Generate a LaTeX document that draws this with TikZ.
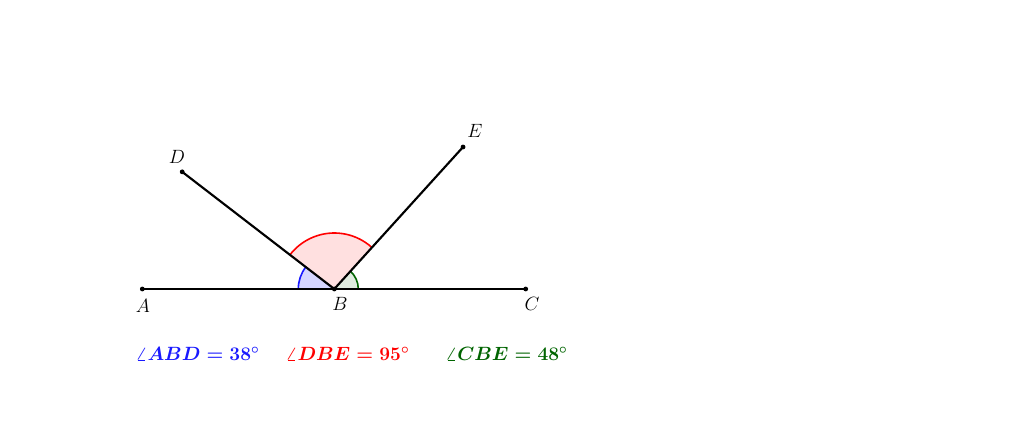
\documentclass[tikz,border=0pt]{standalone}
\usetikzlibrary{calc}
\definecolor{gblue}{RGB}{25,25,255}
\definecolor{gred}{RGB}{255,0,0}
\definecolor{ggreen}{RGB}{0,100,0}
\tikzset{
  seg/.style={line width=1.6pt, black},
  pt/.style={circle, fill=black, inner sep=0pt, minimum size=3.6pt},
  lbl/.style={font=\fontsize{13.5}{16}\selectfont, inner sep=0pt},
  res/.style={font=\fontsize{14.9}{17}\selectfont\boldmath, inner sep=0pt},
  arcline/.style={line width=1.2pt}
}
\begin{document}
\begin{tikzpicture}[x=0.75pt,y=0.75pt]
\useasboundingbox (0,0) rectangle (1024,434);
\coordinate (B) at (334.3,145);
\coordinate (A) at (142.3,145);
\coordinate (C) at (525.7,145);
\coordinate (D) at ($(B)+(142.4:192)$);
\coordinate (E) at ($(B)+(47.8:191.7)$);
% angle sectors
\fill[gred!12] (B) -- ++(47.8:56) arc[start angle=47.8,end angle=142.4,radius=56] -- cycle;
\draw[gred,arcline] ($(B)+(47.8:56)$) arc[start angle=47.8,end angle=142.4,radius=56];
\fill[gblue!18] (B) -- ++(142.4:36) arc[start angle=142.4,end angle=180,radius=36] -- cycle;
\draw[gblue,arcline] ($(B)+(142.4:36)$) arc[start angle=142.4,end angle=180,radius=36];
\fill[ggreen!12] (B) -- ++(0:24) arc[start angle=0,end angle=47.8,radius=24] -- cycle;
\draw[ggreen,arcline] ($(B)+(0:24)$) arc[start angle=0,end angle=47.8,radius=24];
% segments
\draw[seg] (A) -- (C);
\draw[seg] (B) -- (D);
\draw[seg] (B) -- (E);
% points
\node[pt] (pA) at (A) {};
\node[pt] (pB) at (B) {};
\node[pt] (pC) at (C) {};
\node[pt] (pD) at (D) {};
\node[pt] (pE) at (E) {};
% labels
\node[lbl] (lA) at (143,128) {$A$};
\node[lbl] (lB) at (340,130) {$B$};
\node[lbl] (lC) at (532,130) {$C$};
\node[lbl] (lD) at (177,277) {$D$};
\node[lbl] (lE) at (475,303) {$E$};
% results
\node[res, text=gblue] (r1) at (197.5,80) {$\angle ABD = 38^\circ$};
\node[res, text=gred] (r2) at (347.5,80) {$\angle DBE = 95^\circ$};
\node[res, text=ggreen] (r3) at (506.5,80) {$\angle CBE = 48^\circ$};
\end{tikzpicture}
\end{document}
